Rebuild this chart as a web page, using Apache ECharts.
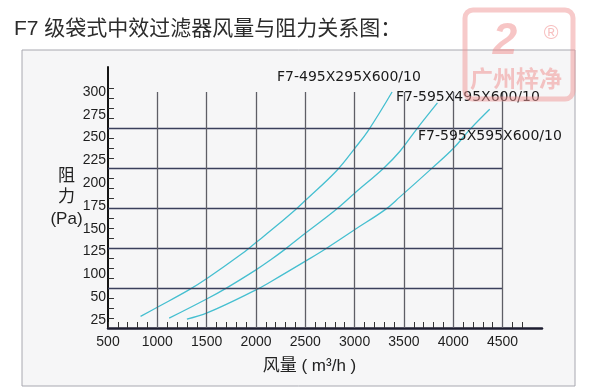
<!DOCTYPE html>
<html><head><meta charset="utf-8">
<script src="https://cdn.jsdelivr.net/npm/echarts@6/dist/echarts.min.js"></script>
<style>html,body{margin:0;padding:0;background:#fff}#c{width:600px;height:391px}</style>
</head><body><div id="c"></div>
<script>
const chartTitle = 'F7 级袋式中效过滤器风量与阻力关系图：';
const seriesNames = ['F7-495X295X600/10', 'F7-595X495X600/10', 'F7-595X595X600/10'];
const curveA = [[830,54],[1000,64],[1320,83],[1510,96],[1850,122],[2000,135],[2150,148],[2400,171],[2500,181],[2820,214],[3000,238],[3140,258],[3380,300]];
const curveB = [[1120,52],[1500,73],[1700,85],[2000,105],[2150,116],[2300,128],[2500,145],[2800,170],[3000,189],[3300,217],[3460,235],[3620,258],[3840,288]];
const curveC = [[1300,51],[1510,58],[2000,83],[2150,92],[2540,117],[2720,129],[3000,149],[3310,171],[3460,185],[3780,216],[4000,238],[4170,259],[4370,281]];
const xTickLabels = ['500','1000','1500','2000','2500','3000','3500','4000','4500'];
const yTickValues = [50,75,100,125,150,175,200,225,250,275,300];
const yTickLabels = ['25','50','100','125','150','175','200','225','250','275','300'];
const gridRows = [1,2,3,4,5];
const gridCols = [1000,1500,2000,2500,3000,3500,4000,4500];

const xMinorTicks = [];
for (let v = 500; v <= 4700; v += 100) xMinorTicks.push(v);
const yMinorTicks = [];
for (let v = 0.25; v <= 6.001; v += 0.25) yMinorTicks.push(+v.toFixed(2));

const chart = echarts.init(document.getElementById('c'), null, {renderer: 'canvas'});
const curveColor = '#45bfd0';
const labelFont = 'Liberation Sans, Arial, sans-serif';

const gridLineData = [];
gridRows.forEach(r => gridLineData.push([{coord: [500, r], lineStyle: {color: '#3b3f5c', width: 1.4, type: 'solid'}}, {coord: [4500, r]}]));
gridCols.forEach(c => gridLineData.push([{coord: [c, 0], lineStyle: {color: '#5e5e66', width: 1.3, type: 'solid'}}, {coord: [c, 5.9]}]));

const curves = [curveA, curveB, curveC];

chart.setOption({
  animation: false,
  backgroundColor: '#ffffff',
  title: {
    text: chartTitle, left: 14, top: 19, padding: 0,
    textStyle: {fontSize: 21, fontWeight: 'normal', color: '#2c2c2c', fontFamily: 'Liberation Sans, Noto Sans CJK SC, sans-serif'}
  },
  grid: {left: 108, right: 58, top: 67, bottom: 63, containLabel: false},
  xAxis: {
    type: 'value', min: 500, max: 4900,
    name: '风量 ( m³/h )', nameLocation: 'middle', nameGap: 38,
    nameTextStyle: {fontSize: 17, color: '#222', fontFamily: 'Liberation Sans, Noto Sans CJK SC, sans-serif', verticalAlign: 'middle', padding: [0, 31, 0, 0]},
    axisLine: {show: true, lineStyle: {color: '#1c1c30', width: 2.5}},
    axisTick: {show: true, inside: true, length: 6, customValues: xMinorTicks, lineStyle: {color: '#333', width: 1}},
    axisLabel: {customValues: xTickLabels.map(Number), margin: 7, fontSize: 14, color: '#1e1e1e', fontFamily: labelFont,
      formatter: v => xTickLabels[xTickLabels.indexOf(String(Math.round(v)))]},
    splitLine: {show: false}
  },
  yAxis: [{
    type: 'value', min: 41.23, max: 327.41, position: 'left', offset: 0,
    axisLine: {show: false}, axisTick: {show: false}, splitLine: {show: false},
    axisLabel: {customValues: yTickValues, margin: 2, fontSize: 14, color: '#1e1e1e', fontFamily: labelFont,
      formatter: v => yTickLabels[yTickValues.indexOf(Math.round(v))]}
  }, {
    type: 'value', min: 0, max: 6.525, position: 'left', offset: 0,
    name: '阻\n力\n(Pa)', nameLocation: 'middle', nameGap: 41.5, nameRotate: 0,
    nameTextStyle: {fontSize: 17, lineHeight: 21.5, color: '#222', align: 'center', verticalAlign: 'middle', fontFamily: 'Liberation Sans, Noto Sans CJK SC, sans-serif', padding: [0, 0, 8, 0]},
    axisLine: {show: true, lineStyle: {color: '#151515', width: 2}},
    axisTick: {show: true, inside: true, length: 6, customValues: yMinorTicks, lineStyle: {color: '#333', width: 1}},
    axisLabel: {show: false}, splitLine: {show: false}
  }],
  series: [{
    type: 'line', name: 'grid', yAxisIndex: 1, data: [], silent: true, z: 1,
    markLine: {silent: true, symbol: ['none', 'none'], label: {show: false}, animation: false,
      lineStyle: {type: 'solid'}, emphasis: {disabled: true}, data: gridLineData}
  }].concat(curves.map((d, i) => ({
    type: 'line', name: seriesNames[i], yAxisIndex: 0, data: d, smooth: 0.4, showSymbol: false, z: 3,
    lineStyle: {color: curveColor, width: 1.3}, itemStyle: {color: curveColor}
  }))),
  graphic: {elements: [
    {type: 'rect', z: -10, shape: {x: 22, y: 50, width: 553, height: 336}, style: {fill: '#f6f6f7', stroke: '#a8a8b0', lineWidth: 1}},
    {type: 'text', z: 10, x: 277, y: 77, style: {text: seriesNames[0], font: '14px "DejaVu Sans", sans-serif', fill: '#1a1a1a', verticalAlign: 'middle'}},
    {type: 'text', z: 10, x: 396, y: 97, style: {text: seriesNames[1], font: '14px "DejaVu Sans", sans-serif', fill: '#1a1a1a', verticalAlign: 'middle'}},
    {type: 'text', z: 10, x: 418, y: 136, style: {text: seriesNames[2], font: '14px "DejaVu Sans", sans-serif', fill: '#1a1a1a', verticalAlign: 'middle'}},
    {type: 'rect', z: 20, shape: {x: 465, y: 10, width: 108, height: 89, r: 8}, style: {fill: 'rgba(255,255,255,0)', stroke: 'rgba(240,150,150,0.5)', lineWidth: 5}},
    {type: 'text', z: 20, x: 505, y: 42, style: {text: '2', font: 'italic bold 44px "Liberation Sans", sans-serif', fill: 'rgba(240,140,140,0.5)', align: 'center', verticalAlign: 'middle'}},
    {type: 'text', z: 20, x: 551, y: 33, style: {text: '®', font: '20px "Liberation Sans", sans-serif', fill: 'rgba(240,140,140,0.55)', align: 'center', verticalAlign: 'middle'}},
    {type: 'text', z: 20, x: 516, y: 78, style: {text: '广州梓净', font: 'bold 23px "Noto Sans CJK SC", sans-serif', fill: 'rgba(240,140,140,0.5)', align: 'center', verticalAlign: 'middle'}}
  ]}
});
</script>
</body></html>
